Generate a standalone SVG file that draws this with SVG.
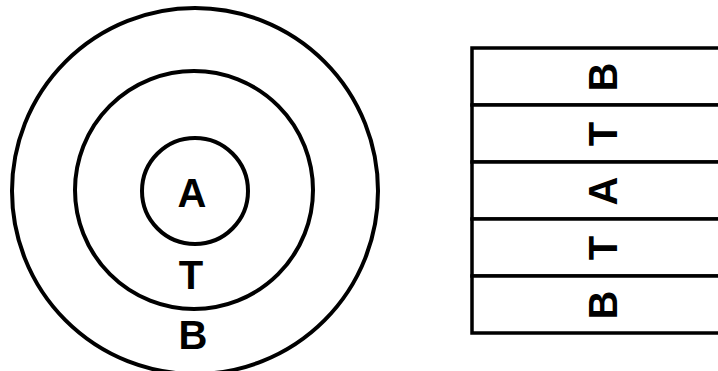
<svg xmlns="http://www.w3.org/2000/svg" width="718" height="371" viewBox="0 0 718 371">
<style>
.ring{fill:none;stroke:#000;stroke-width:4}
.lbl{font-family:"Liberation Sans",Arial,sans-serif;font-weight:bold;font-size:40px;fill:#000;text-anchor:middle}
.row{fill:#fff;stroke:#000;stroke-width:3.5}
</style>
<rect width="718" height="371" fill="#fff"/>
<g id="rings">
<g id="ring-B"><circle class="ring" cx="195" cy="191" r="183"/><text class="lbl" x="193" y="349">B</text></g>
<g id="ring-T"><circle class="ring" cx="194" cy="190" r="119"/><text class="lbl" x="191" y="289">T</text></g>
<g id="ring-A"><circle class="ring" cx="195" cy="191" r="53"/><text class="lbl" x="192" y="207">A</text></g>
</g>
<g id="layers">
<g id="layer-B1"><rect class="row" x="472" y="48" width="260" height="57"/><text class="lbl" transform="translate(617,77) rotate(-90)">B</text></g>
<g id="layer-T1"><rect class="row" x="472" y="105" width="260" height="57"/><text class="lbl" transform="translate(617,134) rotate(-90)">T</text></g>
<g id="layer-A"><rect class="row" x="472" y="162" width="260" height="57"/><text class="lbl" transform="translate(617,191) rotate(-90)">A</text></g>
<g id="layer-T2"><rect class="row" x="472" y="219" width="260" height="57"/><text class="lbl" transform="translate(617,248) rotate(-90)">T</text></g>
<g id="layer-B2"><rect class="row" x="472" y="276" width="260" height="57"/><text class="lbl" transform="translate(617,305) rotate(-90)">B</text></g>
</g>
</svg>
